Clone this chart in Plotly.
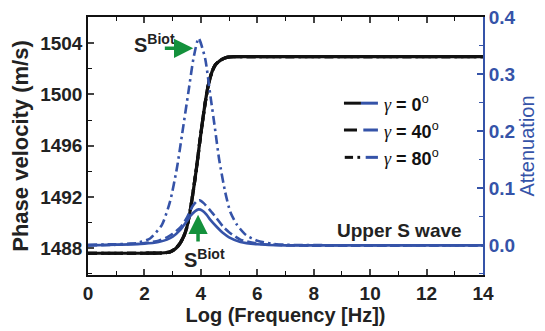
import plotly.graph_objects as go

# ---- data ----
freq_v = [0, 1, 2, 2.6, 2.9, 3.1, 3.27, 3.4, 3.5, 3.62, 3.74, 3.86, 3.95, 4.04, 4.15, 4.27,
          4.4, 4.51, 4.65, 4.8, 4.92, 5.2, 6, 14]
vel = [1487.6, 1487.6, 1487.6, 1487.62, 1487.7, 1487.95, 1488.4, 1488.95, 1489.6, 1490.9,
       1492.6, 1494.5, 1496.1, 1497.6, 1499.3, 1500.8, 1501.8, 1502.3, 1502.6, 1502.8,
       1502.9, 1502.95, 1502.95, 1502.95]

freq_a0 = [0, 1, 2, 2.5, 2.8, 3.0, 3.27, 3.5, 3.62, 3.8, 3.92, 4.05, 4.2, 4.33, 4.55,
           4.8, 5.0, 5.4, 6.0, 7, 14]
att0 = [0.0, 0.001, 0.003, 0.006, 0.010, 0.015, 0.027, 0.042, 0.051, 0.060, 0.063, 0.061,
        0.054, 0.045, 0.033, 0.021, 0.014, 0.006, 0.002, 0.0, 0.0]

freq_a40 = [0, 1, 2, 2.5, 2.8, 3.0, 3.3, 3.5, 3.7, 3.85, 3.95, 4.1, 4.3, 4.55, 4.8,
            5.0, 5.4, 6, 7, 14]
att40 = [0.0, 0.001, 0.004, 0.008, 0.014, 0.020, 0.033, 0.048, 0.068, 0.077, 0.079, 0.074,
         0.063, 0.048, 0.032, 0.023, 0.010, 0.003, 0.0, 0.0]

freq_a80 = [0, 1, 1.5, 1.73, 2.2, 2.62, 2.91, 3.15, 3.33, 3.56, 3.74, 3.92, 4.15, 4.33,
            4.5, 4.65, 4.86, 5.04, 5.28, 5.6, 6.0, 6.5, 7, 14]
att80 = [0.001, 0.002, 0.003, 0.004, 0.012, 0.036, 0.077, 0.135, 0.193, 0.269, 0.328, 0.363,
         0.328, 0.265, 0.205, 0.150, 0.094, 0.059, 0.036, 0.018, 0.008, 0.003, 0.001, 0.0]

legend_labels = ["0", "40", "80"]

BLUE = "#3553a8"
BLACK = "#111111"
GREEN = "#14913c"
FONT = "Liberation Sans, Arial, sans-serif"

fig = go.Figure()

dashes = ["solid", "9px,4px", "9px,4px,2.5px,4px"]
# black velocity curves (overlapping for all gamma)
for d in dashes[::-1]:
    fig.add_trace(go.Scatter(x=freq_v, y=vel, mode="lines", yaxis="y",
                             line=dict(color=BLACK, width=3.2, dash=d, shape="spline",
                                       smoothing=0.6),
                             showlegend=False, hoverinfo="skip"))

for fx, fy, d in [(freq_a0, att0, dashes[0]), (freq_a40, att40, dashes[1]),
                  (freq_a80, att80, dashes[2])]:
    fig.add_trace(go.Scatter(x=fx, y=fy, mode="lines", yaxis="y2",
                             line=dict(color=BLUE, width=2.6, dash=d, shape="spline",
                                       smoothing=0.6),
                             showlegend=False, hoverinfo="skip"))

# ---- custom two-colour legend ----
rows = [0.666, 0.562, 0.456]
x0, xm, x1 = 0.648, 0.691, 0.734
shapes = []
shapes.append(dict(type="line", xref="paper", yref="paper", x0=x0, x1=xm, y0=rows[0], y1=rows[0],
                   line=dict(color=BLACK, width=3)))
shapes.append(dict(type="line", xref="paper", yref="paper", x0=xm, x1=x1, y0=rows[0], y1=rows[0],
                   line=dict(color=BLUE, width=3)))
shapes.append(dict(type="line", xref="paper", yref="paper", x0=x0, x1=0.681, y0=rows[1], y1=rows[1],
                   line=dict(color=BLACK, width=3)))
shapes.append(dict(type="line", xref="paper", yref="paper", x0=0.697, x1=x1, y0=rows[1], y1=rows[1],
                   line=dict(color=BLUE, width=3)))
shapes.append(dict(type="line", xref="paper", yref="paper", x0=0.650, x1=0.671, y0=rows[2], y1=rows[2],
                   line=dict(color=BLACK, width=3)))
shapes.append(dict(type="line", xref="paper", yref="paper", x0=0.682, x1=0.689, y0=rows[2], y1=rows[2],
                   line=dict(color=BLACK, width=3)))
shapes.append(dict(type="line", xref="paper", yref="paper", x0=0.703, x1=x1, y0=rows[2], y1=rows[2],
                   line=dict(color=BLUE, width=3)))

annotations = []
for lab, yy in zip(legend_labels, rows):
    annotations.append(dict(
        xref="paper", yref="paper", x=0.745, y=yy, xanchor="left", yanchor="middle",
        text=("<span style=\"font-family:'Liberation Serif',serif;font-style:italic;font-weight:normal\">γ</span>"
              f"<b> = {lab}</b><sup>o</sup>"),
        showarrow=False, font=dict(family=FONT, size=18, color=BLACK)))

# S^Biot labels and green arrows
annotations += [
    dict(x=2.35, y=1504.0, xref="x", yref="y", text="<b>S<sup>Biot</sup></b>", showarrow=False,
         font=dict(family=FONT, size=20, color="#222222")),
    dict(x=3.73, y=1503.6, xref="x", yref="y", ax=2.67, ay=1503.6, axref="x", ayref="y",
         text="", showarrow=True, arrowhead=2, arrowsize=1.1, arrowwidth=3.5, arrowcolor=GREEN),
    dict(x=4.14, y=1487.2, xref="x", yref="y", text="<b>S<sup>Biot</sup></b>", showarrow=False,
         font=dict(family=FONT, size=20, color="#222222")),
    dict(x=3.9, y=1490.6, xref="x", yref="y", ax=3.9, ay=1488.4, axref="x", ayref="y",
         text="", showarrow=True, arrowhead=2, arrowsize=1.1, arrowwidth=3.5, arrowcolor=GREEN),
    dict(x=11.05, y=1489.4, xref="x", yref="y", text="<b>Upper S wave</b>", showarrow=False,
         font=dict(family=FONT, size=19, color="#222222")),
]

# The page body has an 8px margin, so the figure is shrunk by 8px to fit the window.
fig.update_layout(
    width=537, height=323,
    margin=dict(l=80, r=62, t=9, b=56, autoexpand=False),
    paper_bgcolor="white", plot_bgcolor="white",
    font=dict(family=FONT, color=BLACK),
    showlegend=False,
    shapes=shapes, annotations=annotations,
    xaxis=dict(range=[0, 14], tick0=0, dtick=2, ticks="inside", ticklen=6, tickwidth=1.5,
               showline=True, linecolor=BLACK, linewidth=1.5, mirror="ticks",
               showgrid=False, zeroline=False, automargin=False, ticklabeloverflow="allow",
               minor=dict(ticks="inside", ticklen=4, dtick=1, tickcolor=BLACK, tickwidth=1.2,
                          showgrid=False),
               tickfont=dict(family=FONT, size=19, color="#222222", weight="bold"),
               title=dict(text="<b>Log (Frequency [Hz])</b>", standoff=4,
                          font=dict(family=FONT, size=20, color="#222222"))),
    yaxis=dict(range=[1485.9, 1506.05], tick0=1488, dtick=4, ticks="inside", ticklen=6,
               tickwidth=1.5, showline=True, linecolor=BLACK, linewidth=1.5,
               showgrid=False, zeroline=False, automargin=False, ticklabeloverflow="allow",
               minor=dict(ticks="inside", ticklen=4, dtick=2, tickcolor=BLACK, tickwidth=1.2,
                          showgrid=False),
               tickfont=dict(family=FONT, size=19, color="#222222", weight="bold"),
               title=dict(text="<b>Phase velocity (m/s)</b>", standoff=6,
                          font=dict(family=FONT, size=22, color="#222222"))),
    yaxis2=dict(range=[-0.052, 0.4002], overlaying="y", side="right", tick0=0, dtick=0.1,
                tickformat=".1f", ticks="inside", ticklen=6, tickwidth=1.5, tickcolor=BLUE,
                showline=True, linecolor=BLUE, linewidth=1.8,
                showgrid=False, zeroline=False, automargin=False, ticklabeloverflow="allow",
                minor=dict(ticks="inside", ticklen=4, dtick=0.05, tickcolor=BLUE, tickwidth=1.2,
                           showgrid=False),
                tickfont=dict(family=FONT, size=19, color=BLUE, weight="bold"),
                title=dict(text="Attenuation", standoff=4,
                           font=dict(family=FONT, size=20, color=BLUE))),
)

fig.write_html("out.html")
